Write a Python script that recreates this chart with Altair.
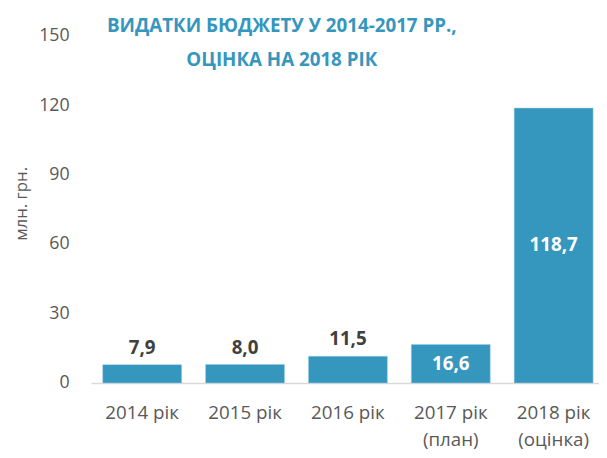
import altair as alt
import pandas as pd

categories = ["2014 рік", "2015 рік", "2016 рік", "2017 рік\n(план)", "2018 рік\n(оцінка)"]
values = [7.9, 8.0, 11.5, 16.6, 118.7]
label_pos = ["out", "out", "out", "in", "in"]
labels = [f"{v:.1f}".replace(".", ",") for v in values]
y_ticks = [0, 30, 60, 90, 120, 150]

df = pd.DataFrame({"cat": categories, "value": values, "pos": label_pos, "label": labels})

FONT = "Open Sans"
BLUE = "#3596BE"
GRAY = "#595959"

x = alt.X(
    "cat:N",
    sort=categories,
    title=None,
    scale=alt.Scale(paddingInner=0.233, paddingOuter=0.0863, align=0.667),
    axis=alt.Axis(
        labelAngle=0,
        ticks=False,
        domainColor="#D9D9D9",
        domainWidth=1.5,
        labelFont=FONT,
        labelFontSize=19,
        labelColor=GRAY,
        labelPadding=21,
        labelLineHeight=27,
        labelExpr="split(datum.label, '\\n')",
    ),
)

yscale = alt.Scale(domain=[0, 150], nice=False)
yaxis = alt.Axis(
    values=y_ticks,
    grid=False,
    domain=False,
    ticks=False,
    labelFont=FONT,
    labelFontSize=18,
    labelColor=GRAY,
    labelPadding=22,
    title="млн. грн.",
    titleFont=FONT,
    titleFontSize=17,
    titleFontWeight="normal",
    titleColor=GRAY,
    titleX=-70,
    titleY=170,
    titleBaseline="middle",
    titleAngle=-90,
)

y = alt.Y("value:Q", scale=yscale, axis=yaxis)

base = alt.Chart(df)

bars = base.mark_bar(color=BLUE, stroke="#9CCBE0", strokeWidth=0.5).encode(x=x, y=y)

out_text = base.transform_filter(alt.datum.pos == "out").mark_text(
    font=FONT, fontSize=19, fontWeight="bold", color="#404040", baseline="middle", dy=-17
).encode(x=x, y=y, text="label:N")

in_text = base.transform_filter(alt.datum.pos == "in").transform_calculate(
    mid="datum.value / 2"
).mark_text(
    font=FONT, fontSize=19, fontWeight="bold", color="white", baseline="middle"
).encode(x=x, y=alt.Y("mid:Q", scale=yscale, axis=yaxis), text="label:N")

chart = (
    alt.layer(bars, out_text, in_text)
    .properties(
        width=515,
        height=352,
        autosize=alt.AutoSizeParams(type="none"),
        padding={"left": 84, "top": 25, "right": 0, "bottom": 65},
        title=alt.TitleParams(
            text=["ВИДАТКИ БЮДЖЕТУ У 2014-2017 РР.,", "ОЦІНКА НА 2018 РІК"],
            font=FONT,
            fontSize=19,
            fontWeight="bold",
            color=BLUE,
            anchor="middle",
            frame="group",
            baseline="top",
            lineHeight=35,
            dx=-64,
            dy=44,
            offset=0,
        ),
    )
    .configure(background="white")
    .configure_view(strokeWidth=0, stroke="transparent")
)

chart.save("out.html", embed_options={"renderer": "svg", "actions": False})
